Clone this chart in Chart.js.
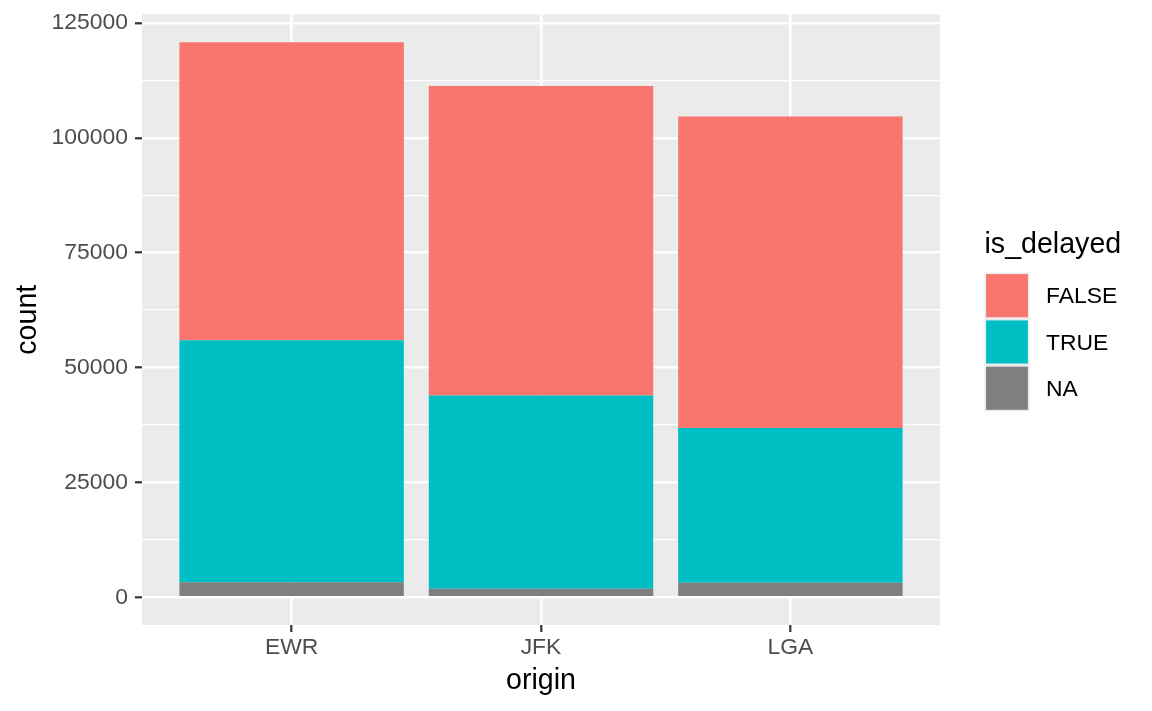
<!DOCTYPE html>
<html>
<head>
<meta charset="utf-8">
<title>Flights by origin</title>
<script src="https://cdn.jsdelivr.net/npm/chart.js@4.4.1/dist/chart.umd.min.js"></script>
<style>
  html, body { margin: 0; padding: 0; background: #ffffff; }
  #chart { display: block; }
</style>
</head>
<body>
<canvas id="chart" width="1152" height="711"></canvas>
<script>
const origins = ["EWR", "JFK", "LGA"];
const delayedFalse = [64885, 67385, 67819];
const delayedTrue = [52711, 42031, 33690];
const delayedNA = [3239, 1863, 3153];
const yMajorTicks = [0, 25000, 50000, 75000, 100000, 125000];
const yMinorTicks = [12500, 37500, 62500, 87500, 112500];

const FONT = "'Liberation Sans', Arial, sans-serif";
const SMALL = 22.9;
const LARGE = 28.6;

// ggplot-style 5% expansion on the y range
const totals = origins.map((_, i) => delayedFalse[i] + delayedTrue[i] + delayedNA[i]);
const yTop = Math.max(...totals);

const toPoints = (vals) => vals.map((v, i) => ({ x: i + 1, y: v }));
const isMajor = (v) => yMajorTicks.includes(v);

const panelBackground = {
  id: "panelBackground",
  beforeDraw(chart) {
    const { ctx, chartArea: a } = chart;
    ctx.save();
    ctx.fillStyle = "#EBEBEB";
    ctx.fillRect(a.left, a.top, a.right - a.left, a.bottom - a.top);
    ctx.restore();
  },
};

// legend drawn like ggplot's guide on the right
const sideLegend = {
  id: "sideLegend",
  afterDraw(chart) {
    const ctx = chart.ctx;
    const items = chart.data.datasets.slice().reverse();
    const x = 984.5;
    const top = 272.5;
    const slot = 46.3;
    const keyW = 45;
    ctx.save();
    ctx.fillStyle = "#000000";
    ctx.textBaseline = "middle";
    ctx.textAlign = "left";
    ctx.font = LARGE + "px " + FONT;
    ctx.fillText("is_delayed", x, 245);
    ctx.fillStyle = "#EBEBEB";
    ctx.fillRect(x, top, keyW, slot * items.length);
    items.forEach((ds, i) => {
      const y = top + i * slot;
      ctx.fillStyle = ds.backgroundColor;
      ctx.fillRect(x + 1.6, y + 1.6, keyW - 3.2, slot - 3.2);
      ctx.fillStyle = "#000000";
      ctx.font = SMALL + "px " + FONT;
      ctx.fillText(ds.label, 1046, y + slot / 2 + 1.5);
    });
    ctx.restore();
  },
};

new Chart(document.getElementById("chart"), {
  type: "bar",
  data: {
    datasets: [
      { label: "NA", data: toPoints(delayedNA), backgroundColor: "#7F7F7F" },
      { label: "TRUE", data: toPoints(delayedTrue), backgroundColor: "#00BFC4" },
      { label: "FALSE", data: toPoints(delayedFalse), backgroundColor: "#F8766D" },
    ],
  },
  options: {
    responsive: false,
    animation: false,
    devicePixelRatio: 1,
    datasets: {
      bar: { categoryPercentage: 0.9, barPercentage: 1.0, borderWidth: 0 },
    },
    layout: { padding: { top: 14.4, right: 212, left: 0, bottom: 0 } },
    plugins: {
      legend: { display: false },
      tooltip: { enabled: false },
    },
    scales: {
      x: {
        type: "linear",
        stacked: true,
        offset: false,
        min: 0.4,
        max: 3.6,
        afterBuildTicks: (s) => {
          s.ticks = origins.map((_, i) => ({ value: i + 1 }));
        },
        afterFit: (s) => {
          s.height = 86;
          s.paddingLeft = 0;
          s.paddingRight = 0;
        },
        ticks: {
          callback: (v) => origins[v - 1] ?? "",
          color: "#4D4D4D",
          font: { family: FONT, size: SMALL },
          padding: 2,
          maxRotation: 0,
          autoSkip: false,
        },
        grid: {
          offset: false,
          color: "#FFFFFF",
          lineWidth: 2.6,
          tickLength: 7,
          tickColor: "#333333",
          tickWidth: 2.2,
        },
        border: { display: false },
        title: {
          display: true,
          text: "origin",
          color: "#000000",
          font: { family: FONT, size: LARGE },
          padding: { top: 0, bottom: 12.8 },
        },
      },
      y: {
        stacked: true,
        min: -0.05 * yTop,
        max: 1.05 * yTop,
        afterBuildTicks: (s) => {
          s.ticks = yMajorTicks.concat(yMinorTicks).sort((a, b) => a - b).map((v) => ({ value: v }));
        },
        afterFit: (s) => {
          s.width = 142;
          s.paddingTop = 0;
          s.paddingBottom = 0;
        },
        ticks: {
          callback: (v) => (isMajor(v) ? String(v) : ""),
          color: "#4D4D4D",
          font: { family: FONT, size: SMALL },
          padding: 7,
          autoSkip: false,
        },
        grid: {
          color: "#FFFFFF",
          lineWidth: (c) => (isMajor(c.tick.value) ? 2.6 : 1.3),
          tickLength: 7,
          tickColor: (c) => (isMajor(c.tick.value) ? "#333333" : "rgba(0,0,0,0)"),
          tickWidth: 2.2,
        },
        border: { display: false },
        title: {
          display: true,
          text: "count",
          color: "#000000",
          font: { family: FONT, size: LARGE },
          padding: { top: 10.8, bottom: 0 },
        },
      },
    },
  },
  plugins: [panelBackground, sideLegend],
});
</script>
</body>
</html>
